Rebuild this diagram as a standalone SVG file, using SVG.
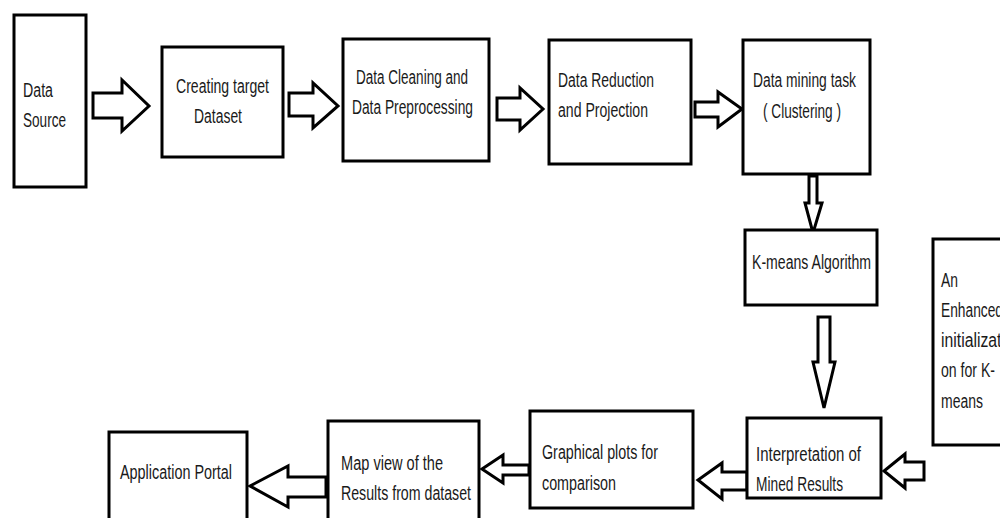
<svg xmlns="http://www.w3.org/2000/svg" width="1000" height="518" viewBox="0 0 1000 518">
<style>
.box{fill:#fff;stroke:#000;stroke-width:3}
.arr{fill:#fff;stroke:#000;stroke-width:3;stroke-linejoin:miter}
text{font-family:"Liberation Sans",Arial,sans-serif;font-size:20px;fill:#1a1a1a}
</style>
<rect width="1000" height="518" fill="#fff"/>
<g id="connectors">
<polygon class="arr" points="93,93 122,93 122,80 149,106 122,131 122,118 93,118"/>
<polygon class="arr" points="289,93 313,93 313,83 338,106 313,128 313,116 289,116"/>
<polygon class="arr" points="497,98 520,98 520,88 543,109 520,130 520,120 497,120"/>
<polygon class="arr" points="695,102 718,102 718,92 742,109 718,127 718,117 695,117"/>
<polygon class="arr" points="809,176 817,176 817,203 822,203 813,233 805,203 809,203"/>
<polygon class="arr" points="818,317 830,317 830,362 835,362 824,408 813,362 818,362"/>
<polygon class="arr" points="924,462 905,462 905,454 884,471 905,488 905,480 924,480"/>
<polygon class="arr" points="747,472 722,472 722,463 698,480 722,499 722,490 747,490"/>
<polygon class="arr" points="529,465 503,465 503,455 482,469 503,483 503,475 529,475"/>
<polygon class="arr" points="326,477 288,477 288,466 250,486 288,507 288,497 326,497"/>
</g>
<g id="data-source">
<rect class="box" x="14" y="15" width="72" height="172"/>
<text x="23" y="97" textLength="30" lengthAdjust="spacingAndGlyphs">Data</text>
<text x="23" y="127" textLength="43" lengthAdjust="spacingAndGlyphs">Source</text>
</g>
<g id="creating-target">
<rect class="box" x="162" y="47" width="121" height="110"/>
<text x="176" y="93" textLength="93" lengthAdjust="spacingAndGlyphs">Creating target</text>
<text x="194" y="123" textLength="48" lengthAdjust="spacingAndGlyphs">Dataset</text>
</g>
<g id="data-cleaning">
<rect class="box" x="343" y="39" width="146" height="122"/>
<text x="356" y="84" textLength="112" lengthAdjust="spacingAndGlyphs">Data Cleaning and</text>
<text x="352" y="114" textLength="121" lengthAdjust="spacingAndGlyphs">Data Preprocessing</text>
</g>
<g id="data-reduction">
<rect class="box" x="549" y="40" width="142" height="124"/>
<text x="558" y="87" textLength="96" lengthAdjust="spacingAndGlyphs">Data Reduction</text>
<text x="558" y="117" textLength="90" lengthAdjust="spacingAndGlyphs">and Projection</text>
</g>
<g id="data-mining">
<rect class="box" x="743" y="40" width="127" height="134"/>
<text x="753" y="87" textLength="103" lengthAdjust="spacingAndGlyphs">Data mining task</text>
<text x="763" y="118" textLength="78" lengthAdjust="spacingAndGlyphs">( Clustering )</text>
</g>
<g id="kmeans">
<rect class="box" x="745" y="230" width="132" height="75"/>
<text x="752" y="269" textLength="119" lengthAdjust="spacingAndGlyphs">K-means Algorithm</text>
</g>
<g id="enhanced">
<rect class="box" x="933" y="239" width="72" height="206"/>
<text x="941" y="287" textLength="17" lengthAdjust="spacingAndGlyphs">An</text>
<text x="941" y="317" textLength="62" lengthAdjust="spacingAndGlyphs">Enhanced</text>
<text x="941" y="347" textLength="64" lengthAdjust="spacingAndGlyphs">initializati</text>
<text x="941" y="377" textLength="54" lengthAdjust="spacingAndGlyphs">on for K-</text>
<text x="941" y="408" textLength="42" lengthAdjust="spacingAndGlyphs">means</text>
</g>
<g id="interpretation">
<rect class="box" x="747" y="418" width="134" height="80"/>
<text x="756" y="461" textLength="105" lengthAdjust="spacingAndGlyphs">Interpretation of</text>
<text x="756" y="491" textLength="87" lengthAdjust="spacingAndGlyphs">Mined Results</text>
</g>
<g id="graphical">
<rect class="box" x="530" y="411" width="163" height="97"/>
<text x="542" y="459" textLength="116" lengthAdjust="spacingAndGlyphs">Graphical plots for</text>
<text x="542" y="490" textLength="74" lengthAdjust="spacingAndGlyphs">comparison</text>
</g>
<g id="map-view">
<rect class="box" x="328" y="421" width="151" height="102"/>
<text x="341" y="470" textLength="102" lengthAdjust="spacingAndGlyphs">Map view of the</text>
<text x="341" y="500" textLength="130" lengthAdjust="spacingAndGlyphs">Results from dataset</text>
</g>
<g id="application-portal">
<rect class="box" x="109" y="432" width="138" height="91"/>
<text x="120" y="479" textLength="112" lengthAdjust="spacingAndGlyphs">Application Portal</text>
</g>
</svg>
